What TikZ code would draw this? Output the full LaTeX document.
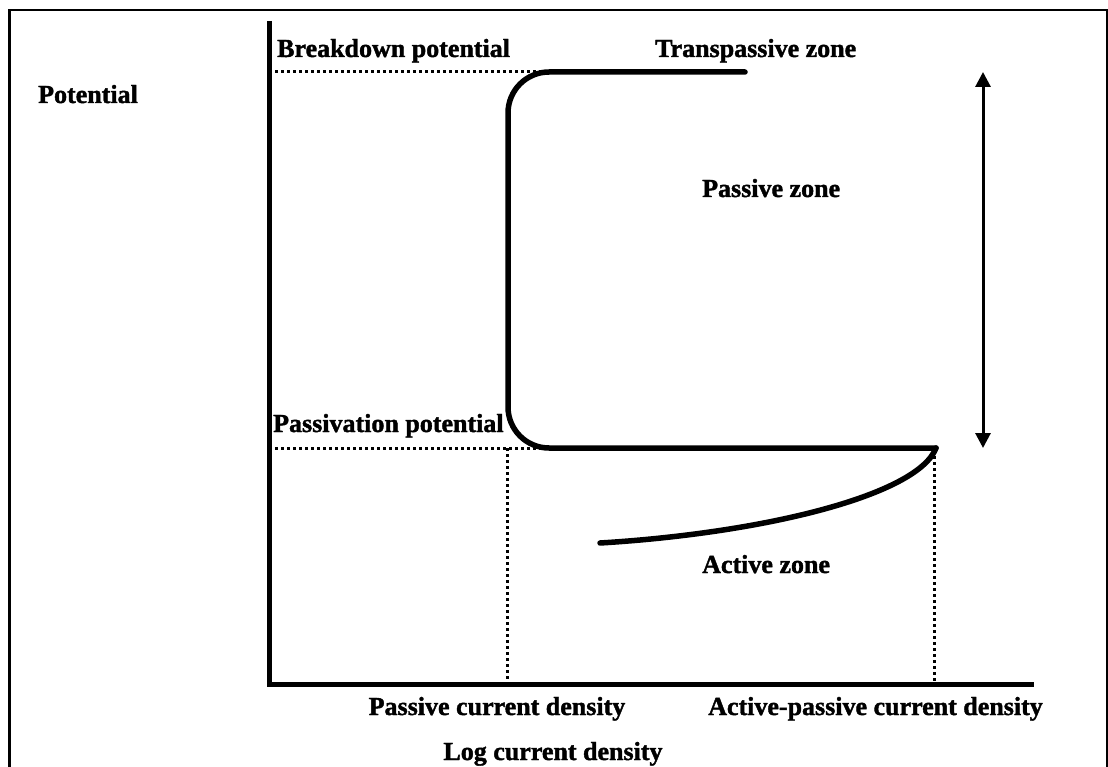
\documentclass[tikz,border=0pt]{standalone}
\usepackage{fontspec}
\setmainfont{Liberation Serif}[BoldFeatures={FakeBold=1.5}]
\usetikzlibrary{arrows.meta}
\tikzset{
  lbl/.style={font=\fontsize{26}{30}\selectfont\bfseries, inner sep=0pt, anchor=base west},
  curve/.style={line width=5.5pt, line cap=round, line join=round},
  axis/.style={line width=5pt},
  guide/.style={line width=3pt, dash pattern=on 3pt off 3pt},
  frameline/.style={line width=2.5pt},
  span/.style={line width=3pt, {Triangle[width=15pt,length=15pt]}-{Triangle[width=15pt,length=15pt]}}
}
\begin{document}
\begin{tikzpicture}[x=1pt,y=-1pt]
\useasboundingbox (0,0) rectangle (1108,767);
% frame
\draw[frameline] (9.5,775) -- (9.5,10) -- (1107,10) -- (1107,775);
% coordinates
\coordinate (O) at (269,684);
\coordinate (Ytop) at (269,21);
\coordinate (Xend) at (1034,684);
\coordinate (Bl) at (269,72);
\coordinate (Br) at (548,72);
\coordinate (Tend) at (745,72);
\coordinate (Corner1) at (508,72);
\coordinate (Corner2) at (508,448);
\coordinate (Pl) at (269,448);
\coordinate (Pr) at (550,448);
\coordinate (Knee) at (936,448);
\coordinate (Aend) at (600,543);
\coordinate (Pd) at (507,448);
\coordinate (Pdb) at (507,684);
\coordinate (Ad) at (934,456);
\coordinate (Adb) at (934,684);
\coordinate (Atop) at (983,72);
\coordinate (Abot) at (983,448);
% axes
\draw[axis] (Ytop) -- (O) -- (Xend);
% guides
\draw[guide] (Bl) -- (Br);
\draw[guide] (Pl) -- (Pr);
\draw[guide] (Pd) -- (Pdb);
\draw[guide] (Ad) -- (Adb);
% polarization curve
\draw[curve, rounded corners=41pt] (Tend) -- (Corner1) -- (Corner2) -- (Knee);
\draw[curve] (Knee) .. controls (918,495) and (765,533) .. (Aend);
% double arrow
\draw[span] (Atop) -- (Abot);
% labels
\node[lbl] (pot) at (38,103) {Potential};
\node[lbl] (bd) at (277,57) {Breakdown potential};
\node[lbl] (tz) at (655,57) {Transpassive zone};
\node[lbl] (pz) at (702,197) {Passive zone};
\node[lbl] (pp) at (273,432) {Passivation potential};
\node[lbl] (az) at (702,573) {Active zone};
\node[lbl, anchor=base] (pcd) at (497,715) {Passive current density};
\node[lbl, anchor=base east] (apcd) at (1043,715) {Active-passive current density};
\node[lbl, anchor=base] (lcd) at (553,760) {Log current density};
\end{tikzpicture}
\end{document}
